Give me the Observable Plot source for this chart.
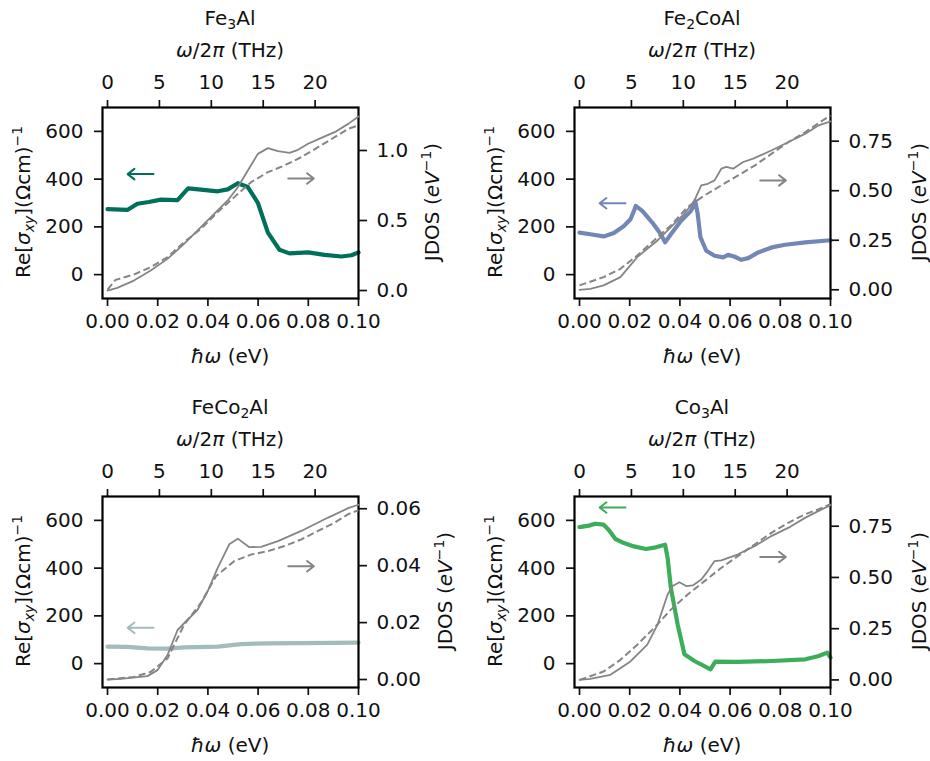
<!DOCTYPE html>
<html><head><meta charset="utf-8">
<script src="https://cdn.jsdelivr.net/npm/d3@7"></script>
<script src="https://cdn.jsdelivr.net/npm/@observablehq/plot@0.6"></script>
<style>
body{margin:0;background:#fff;font-family:"DejaVu Sans",sans-serif;color:#111}
#root{position:relative;width:930px;height:761px;overflow:hidden;background:#fff}
.panel{position:absolute;width:465px;height:380px}
.panel svg{position:absolute;left:0;top:0;max-width:none}
.lbl{position:absolute;white-space:nowrap;font-size:20px;line-height:1;transform:translate(-50%,-50%)}
.lbl.rot{transform:translate(-50%,-50%) rotate(-90deg)}
.lbl sub{font-size:0.7em;vertical-align:-0.25em;line-height:0}
.lbl sup{font-size:0.7em;vertical-align:0.6em;line-height:0}
</style></head><body><div id="root"></div>
<script>
// ---------- data ----------
const titles = ["Fe<sub>3</sub>Al", "Fe<sub>2</sub>CoAl", "FeCo<sub>2</sub>Al", "Co<sub>3</sub>Al"];
const colors = ["#00705a", "#7387b7", "#a2bbbb", "#3cae5a"];

const eVTicks = [0, 0.02, 0.04, 0.06, 0.08, 0.10];
const thzTicks = [0, 5, 10, 15, 20];
const sigmaTicks = [0, 200, 400, 600];
const jdosTicks = [[0, 0.5, 1.0], [0, 0.25, 0.5, 0.75], [0, 0.02, 0.04, 0.06], [0, 0.25, 0.5, 0.75]];
const jdosFormats = [".1f", ".2f", ".2f", ".2f"];
const jdosDomains = [[-0.057, 1.307], [-0.044, 0.92], [-0.0028, 0.0643], [-0.037, 0.895]];

// Fe3Al
const fe3alSigmaE = [0, 0.0079, 0.0119, 0.0165, 0.0212, 0.0279, 0.0321, 0.0372, 0.0439, 0.0479, 0.0519, 0.0559, 0.0599, 0.0639, 0.0685, 0.0725, 0.0799, 0.0865, 0.0932, 0.0972, 0.1];
const fe3alSigma  = [274, 271, 297, 304, 314, 312, 361, 356, 349, 357, 383, 367, 301, 176, 104, 89, 93, 83, 76, 81, 93];
const fe3alJdosE = [0, 0.0039, 0.0105, 0.0172, 0.0239, 0.0305, 0.0372, 0.0412, 0.0479, 0.0519, 0.0559, 0.0599, 0.0639, 0.0679, 0.0725, 0.0759, 0.0799, 0.0852, 0.0905, 0.0959, 0.1];
const fe3alJdos  = [0.0, 0.019, 0.071, 0.143, 0.226, 0.333, 0.452, 0.524, 0.643, 0.738, 0.857, 0.976, 1.017, 0.995, 0.983, 1.005, 1.048, 1.090, 1.131, 1.190, 1.243];
const fe3alFitE = [0, 0.0032, 0.0105, 0.0172, 0.0239, 0.0305, 0.0372, 0.0439, 0.0505, 0.0572, 0.0639, 0.0705, 0.0772, 0.0839, 0.0905, 0.0959, 0.1];
const fe3alFit  = [0.007, 0.076, 0.114, 0.167, 0.238, 0.345, 0.440, 0.560, 0.667, 0.774, 0.845, 0.893, 0.952, 1.024, 1.095, 1.155, 1.179];

// Fe2CoAl
const fe2coalSigmaE = [0, 0.0043, 0.0096, 0.0137, 0.0177, 0.0203, 0.0217, 0.0224, 0.0250, 0.0290, 0.0324, 0.0341, 0.0364, 0.0404, 0.0444, 0.0461, 0.0471, 0.0482, 0.0505, 0.0538, 0.0572, 0.0592, 0.0618, 0.0645, 0.0672, 0.0712, 0.0766, 0.0819, 0.0900, 0.1];
const fe2coalSigma  = [176, 169, 160, 174, 204, 232, 267, 288, 267, 218, 169, 135, 169, 225, 267, 308, 253, 156, 100, 79, 72, 83, 75, 62, 69, 93, 114, 125, 135, 144];
const fe2coalJdosE = [0, 0.0043, 0.0096, 0.0163, 0.0230, 0.0270, 0.0311, 0.0364, 0.0418, 0.0458, 0.0485, 0.0511, 0.0538, 0.0565, 0.0585, 0.0612, 0.0652, 0.0692, 0.0766, 0.0833, 0.0900, 0.0953, 0.1];
const fe2coalJdos  = [0.0, 0.005, 0.022, 0.064, 0.165, 0.207, 0.249, 0.316, 0.384, 0.451, 0.527, 0.535, 0.552, 0.611, 0.620, 0.611, 0.645, 0.662, 0.704, 0.746, 0.788, 0.830, 0.850];
const fe2coalFitE = [0, 0.0096, 0.0163, 0.0230, 0.0297, 0.0364, 0.0431, 0.0498, 0.0565, 0.0632, 0.0699, 0.0766, 0.0833, 0.0900, 0.0953, 0.1];
const fe2coalFit  = [0.022, 0.064, 0.106, 0.173, 0.249, 0.325, 0.418, 0.476, 0.527, 0.577, 0.628, 0.687, 0.746, 0.796, 0.842, 0.880];

// FeCo2Al
const feco2alSigmaE = [0, 0.0079, 0.0159, 0.0239, 0.0305, 0.0439, 0.0532, 0.0639, 0.0772, 0.1];
const feco2alSigma  = [71, 70, 64, 63, 68, 71, 82, 85, 86, 88];
const feco2alJdosE = [0, 0.0052, 0.0159, 0.0199, 0.0239, 0.0279, 0.0319, 0.0359, 0.0399, 0.0439, 0.0485, 0.0519, 0.0565, 0.0612, 0.0679, 0.0772, 0.0879, 0.0959, 0.1];
const feco2alJdos  = [0.0, 0.0002, 0.0012, 0.0033, 0.0086, 0.0174, 0.0210, 0.0245, 0.0310, 0.0392, 0.0475, 0.0495, 0.0465, 0.0466, 0.0486, 0.0522, 0.0569, 0.0602, 0.0614];
const feco2alFitE = [0, 0.0105, 0.0172, 0.0239, 0.0305, 0.0372, 0.0432, 0.0505, 0.0572, 0.0639, 0.0705, 0.0772, 0.0839, 0.0905, 0.0959, 0.1];
const feco2alFit  = [0.0, 0.0009, 0.0027, 0.0074, 0.0192, 0.0269, 0.0363, 0.0416, 0.0439, 0.0451, 0.0469, 0.0492, 0.0522, 0.0551, 0.0581, 0.0595];

// Co3Al
const co3alSigmaE = [0, 0.0037, 0.0063, 0.0096, 0.0116, 0.0143, 0.0177, 0.0217, 0.0264, 0.0304, 0.0341, 0.0351, 0.0364, 0.0391, 0.0418, 0.0458, 0.0522, 0.0541, 0.0632, 0.0766, 0.0900, 0.0953, 0.0987, 0.1];
const co3alSigma  = [572, 578, 586, 582, 561, 522, 505, 491, 480, 487, 498, 443, 317, 164, 39, 11, -24, 8, 7, 11, 18, 32, 46, 25];
const co3alJdosE = [0, 0.0043, 0.0123, 0.0203, 0.0270, 0.0311, 0.0351, 0.0371, 0.0398, 0.0425, 0.0451, 0.0485, 0.0511, 0.0538, 0.0565, 0.0632, 0.0699, 0.0766, 0.0833, 0.0900, 0.0953, 0.1];
const co3alJdos  = [0.0, 0.005, 0.025, 0.090, 0.172, 0.270, 0.417, 0.458, 0.477, 0.458, 0.461, 0.490, 0.531, 0.580, 0.583, 0.613, 0.654, 0.703, 0.743, 0.792, 0.825, 0.853];
const co3alFitE = [0, 0.0096, 0.0163, 0.0230, 0.0297, 0.0364, 0.0431, 0.0498, 0.0565, 0.0632, 0.0699, 0.0766, 0.0833, 0.0900, 0.0953, 0.1];
const co3alFit  = [0.0, 0.041, 0.098, 0.172, 0.253, 0.343, 0.417, 0.482, 0.547, 0.605, 0.662, 0.719, 0.768, 0.809, 0.833, 0.858];

// annotation arrows (data units): left arrow points to sigma axis, right arrow to JDOS axis
const leftArrowE = [0.0183, 0.0080];
const rightArrowE = [0.0720, 0.0822];
const leftArrowSigma = [421, 299, 150, 654];
const rightArrowJdos = [0.80, 0.552, 0.0398, 0.600];

// ---------- layout ----------
const EV_PER_THZ = 0.0041357;
const W = 465, H = 380;
const M = {top: 107, bottom: 82, left: 102, right: 107};
const offsets = [[0, 0], [472, 0], [0, 389], [472, 389]];
const rightLabelX = [432, 447, 445, 447];
const FS = 20;

const series = [
  [fe3alSigmaE, fe3alSigma, fe3alJdosE, fe3alJdos, fe3alFitE, fe3alFit],
  [fe2coalSigmaE, fe2coalSigma, fe2coalJdosE, fe2coalJdos, fe2coalFitE, fe2coalFit],
  [feco2alSigmaE, feco2alSigma, feco2alJdosE, feco2alJdos, feco2alFitE, feco2alFit],
  [co3alSigmaE, co3alSigma, co3alJdosE, co3alJdos, co3alFitE, co3alFit]
];
const zip = (xs, ys) => xs.map((x, i) => ({x, y: ys[i]}));
const baseStyle = {background: "transparent", fontFamily: "DejaVu Sans", fontSize: FS + "px", color: "#111", overflow: "visible", maxWidth: "none"};
const GRAY = "#858585";

const root = document.getElementById("root");

function label(container, html, x, y, rot) {
  const d = document.createElement("div");
  d.className = "lbl" + (rot ? " rot" : "");
  d.innerHTML = html;
  d.style.left = x + "px";
  d.style.top = y + "px";
  container.appendChild(d);
}

series.forEach((s, i) => {
  const [sE, sV, jE, jV, fE, fV] = s;
  const panel = document.createElement("div");
  panel.className = "panel";
  panel.style.left = offsets[i][0] + "px";
  panel.style.top = offsets[i][1] + "px";
  root.appendChild(panel);

  const common = {
    width: W, height: H,
    marginTop: M.top, marginBottom: M.bottom, marginLeft: M.left, marginRight: M.right,
    style: baseStyle
  };
  const ax = {tickSize: 8, strokeWidth: 1.7, fontSize: FS, fill: "#111", label: null};

  const sigmaPlot = Plot.plot({
    ...common,
    x: {domain: [-0.002, 0.1]},
    y: {domain: [-100, 700]},
    marks: [
      Plot.axisX({...ax, anchor: "bottom", ticks: eVTicks, tickFormat: d3.format(".2f"), tickPadding: 7}),
      Plot.axisX({...ax, anchor: "top", ticks: thzTicks.map(t => t * EV_PER_THZ), tickFormat: d => String(Math.round(d / EV_PER_THZ)), tickPadding: 11}),
      Plot.axisY({...ax, anchor: "left", ticks: sigmaTicks, tickFormat: d3.format("d"), tickPadding: 11}),
      Plot.line(zip(sE, sV), {x: "x", y: "y", stroke: colors[i], strokeWidth: 4.2}),
      Plot.arrow([{x1: leftArrowE[0], x2: leftArrowE[1], y: leftArrowSigma[i]}], {x1: "x1", x2: "x2", y1: "y", y2: "y", stroke: colors[i], strokeWidth: 2, headLength: 12, headAngle: 75}),
      Plot.frame({stroke: "#000", strokeWidth: 2.2})
    ]
  });
  panel.appendChild(sigmaPlot);

  const jdosPlot = Plot.plot({
    ...common,
    x: {domain: [-0.002, 0.1], axis: null},
    y: {domain: jdosDomains[i]},
    marks: [
      Plot.axisY({...ax, anchor: "right", ticks: jdosTicks[i], tickFormat: d3.format(jdosFormats[i]), tickPadding: 10}),
      Plot.line(zip(fE, fV), {x: "x", y: "y", stroke: GRAY, strokeWidth: 2, strokeDasharray: "7,3.5", strokeLinecap: "butt"}),
      Plot.line(zip(jE, jV), {x: "x", y: "y", stroke: GRAY, strokeWidth: 1.8}),
      Plot.arrow([{x1: rightArrowE[0], x2: rightArrowE[1], y: rightArrowJdos[i]}], {x1: "x1", x2: "x2", y1: "y", y2: "y", stroke: GRAY, strokeWidth: 2, headLength: 12, headAngle: 75})
    ]
  });
  panel.appendChild(jdosPlot);

  label(panel, titles[i], 230, 18);
  label(panel, "<i>ω</i>/2<i>π</i> (THz)", 230, 50);
  label(panel, "<i>ħω</i> (eV)", 230, 356);
  label(panel, "Re[<i>σ</i><sub><i>xy</i></sub>](Ωcm)<sup>−1</sup>", 23, 202, true);
  label(panel, "JDOS (<i>eV</i><sup>−1</sup>)", rightLabelX[i], 202, true);
});
</script></body></html>
